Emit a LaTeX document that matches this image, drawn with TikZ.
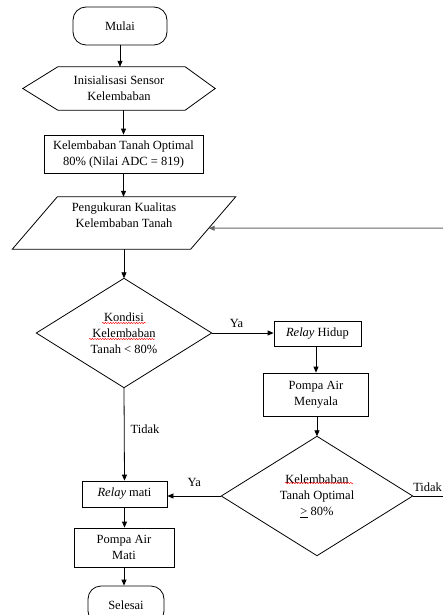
\documentclass[tikz,border=0pt]{standalone}
\usepackage{fontspec}
\setmainfont{Liberation Serif}
\usetikzlibrary{arrows.meta, calc, decorations.pathmorphing}

\begin{document}
\begin{tikzpicture}[x=1pt, y=-1pt,
  every node/.style={font=\fontsize{12.5}{16}\selectfont, align=center, inner sep=0pt},
  procbox/.style={draw, line width=0.8pt},
  termbox/.style={draw, line width=0.8pt, rounded corners=13pt},
  outline/.style={line width=0.8pt},
  flowline/.style={line width=0.8pt, -{Triangle[length=6pt,width=5pt]}},
  squiggle/.style={red, line width=0.45pt, decorate,
    decoration={snake, amplitude=0.6pt, segment length=2.6pt}}]

  \useasboundingbox (0,0) rectangle (443,615);
  \clip (0,0) rectangle (443,615);

  % Left column
  \node[termbox, minimum width=94pt, minimum height=38pt] (start) at (120,26) {Mulai};
  \node[minimum width=192pt, minimum height=43pt] (init) at (119,88.5) {Inisialisasi Sensor\\Kelembaban};
  \node[procbox, minimum width=159pt, minimum height=38pt] (setp) at (123.5,154) {Kelembaban Tanah Optimal\\80\% (Nilai ADC = 819)};
  \node[minimum width=223pt, minimum height=52pt] (meas) at (124,223) {};
  \node at (124,215.5) {Pengukuran Kualitas\\Kelembaban Tanah};
  \node[minimum width=175pt, minimum height=109pt] (cond) at (124,333) {Kondisi\\Kelembaban\\Tanah < 80\%};
  \node[procbox, minimum width=85pt, minimum height=26pt] (rlyoff) at (124.5,494) {\textit{Relay} mati};
  \node[procbox, minimum width=100pt, minimum height=39pt] (pmpoff) at (124,547.5) {Pompa Air\\Mati};
  \node[termbox, minimum width=76pt, minimum height=38pt] (stop) at (126,605) {Selesai};

  % Right column
  \node[procbox, minimum width=87pt, minimum height=25pt] (rlyon) at (317.5,334) {\textit{Relay} Hidup};
  \node[procbox, minimum width=105pt, minimum height=43pt] (pmpon) at (316,394.5) {Pompa Air\\Menyala};
  \node[minimum width=191pt, minimum height=119pt] (chk) at (317,496) {Kelembaban\\Tanah Optimal\\\underline{>} 80\%};

  % Outlines of the hexagon, parallelogram and diamonds
  \draw[outline] (init.west) -- ($(init.north west)+(35,0)$) -- ($(init.north east)+(-30,0)$)
    -- (init.east) -- ($(init.south east)+(-30,0)$) -- ($(init.south west)+(35,0)$) -- cycle;
  \draw[outline] ($(meas.north west)+(45,0)$) -- (meas.north east)
    -- ($(meas.south east)+(-45,0)$) -- (meas.south west) -- cycle;
  \draw[outline] (cond.north) -- (cond.east) -- (cond.south) -- (cond.west) -- cycle;
  \draw[outline] (chk.north) -- (chk.east) -- (chk.south) -- (chk.west) -- cycle;

  % Spell check marks
  \draw[squiggle] ($(cond.center)+(-22,-10)$) -- ++(44,0);
  \draw[squiggle] ($(cond.center)+(-35,6)$) -- ++(66,0);
  \draw[squiggle] ($(chk.center)+(-32,-13)$) -- ++(68,0);

  % Connectors
  \draw[flowline] (start.south) -- (start.south |- init.north);
  \draw[flowline] (init.south -| setp.north) -- (setp.north);
  \draw[flowline] (setp.south) -- (setp.south |- meas.north);
  \draw[flowline] (meas.south -| cond.north) -- (cond.north);
  \draw[flowline] (cond.east) -- (cond.east -| rlyon.west) node[pos=0.4, above=5pt] {Ya};
  \draw[flowline] (rlyon.south -| pmpon.north) -- (pmpon.north);
  \draw[flowline] (pmpon.south -| chk.north) -- (chk.north);
  \draw[flowline] (cond.south) -- (rlyoff.north) node[pos=0.45, right=6pt] {Tidak};
  \draw[flowline] (chk.west) -- (chk.west -| rlyoff.east) node[pos=0.5, above=9pt] {Ya};
  \draw[flowline] (rlyoff.south) -- (rlyoff.south |- pmpoff.north);
  \draw[flowline] (pmpoff.south) -- (pmpoff.south |- stop.north);

  % Loop back (leaves the page on the right)
  \coordinate (edgeB) at (443,496);
  \coordinate (edgeT) at (443,228);
  \coordinate (measR) at ($(meas.north east)!0.6!($(meas.south east)+(-45,0)$)$);
  \draw[line width=0.8pt] (chk.east) -- (edgeB) node[pos=0.5, above=4pt, anchor=south west, xshift=-15pt] {Tidak};
  \draw[flowline, gray!80!black, line width=1pt] (edgeT) -- (measR);

\end{tikzpicture}
\end{document}
